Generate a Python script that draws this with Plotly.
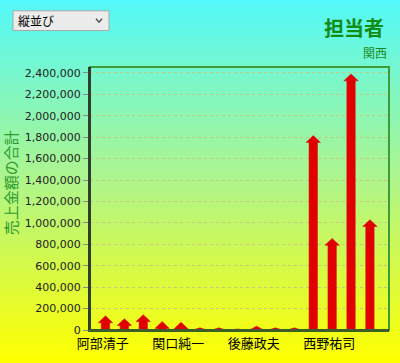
import base64
import plotly.graph_objects as go

# ---- data ----
categories = ["阿部清子", "", "", "", "関口純一", "", "", "", "後藤政夫", "", "", "", "西野祐司", "", ""]
sales = [132000, 106000, 143000, 79000, 73000, 20000, 20000, 10000, 36000, 20000, 20000,
         1815000, 855000, 2390000, 1030000]
tick_labels = ["阿部清子", "関口純一", "後藤政夫", "西野祐司"]
tick_index = [0, 4, 8, 12]
y_ticks = list(range(0, 2400001, 200000))

# ---- layout geometry (pixels) ----
W, H = 400, 363
ML, MR, MT, MB = 90, 11, 67, 29
PW, PH = W - ML - MR, H - MT - MB
YMAX = 2455000
XR = [-0.82, 15.01]
unit_px = PW / (XR[1] - XR[0])


def px_x(p):
    return (p - ML) / PW


def px_y(p):
    return (H - MB - p) / PH


# arrows built from values through the axes
head_data = 7 * YMAX / PH
sw = 4.2 / unit_px
hw = 7.2 / unit_px
xs, ys = [], []
for i, v in enumerate(sales):
    hh = min(v, head_data)
    top = v - hh
    pts = [(i - sw, 0), (i - sw, top), (i - hw, top), (i, v), (i + hw, top),
           (i + sw, top), (i + sw, 0), (i - sw, 0)]
    for a, b in pts:
        xs.append(a)
        ys.append(b)
    xs.append(None)
    ys.append(None)

fig = go.Figure()
fig.add_trace(go.Scatter(x=xs, y=ys, mode="lines", fill="toself",
                         fillcolor="#e00000", line=dict(color="#e00000", width=0.5),
                         hoverinfo="skip", showlegend=False))

# gradient background (svg data uri)
svg = ('<svg xmlns="http://www.w3.org/2000/svg" width="400" height="367" preserveAspectRatio="none">'
       '<defs><linearGradient id="g" x1="0" y1="0" x2="0" y2="1">'
       '<stop offset="0" stop-color="#52f8fa"/>'
       '<stop offset="0.5" stop-color="#aef58c"/>'
       '<stop offset="1" stop-color="#ffff00"/>'
       '</linearGradient></defs>'
       '<rect width="400" height="367" fill="url(#g)"/></svg>')
src = "data:image/svg+xml;base64," + base64.b64encode(svg.encode()).decode()

fig.update_layout(
    width=W, height=H,
    margin=dict(l=ML, r=MR, t=MT, b=MB, pad=0),
    paper_bgcolor="#ffff00",
    plot_bgcolor="rgba(0,0,0,0)",
    showlegend=False,
    images=[dict(source=src, xref="paper", yref="paper",
                 x=px_x(-2), y=px_y(-2), sizex=(W + 4) / PW, sizey=(H + 4) / PH,
                 xanchor="left", yanchor="top", sizing="stretch", layer="below")],
    xaxis=dict(range=XR, tickmode="array",
               tickvals=[t - 0.15 for t in tick_index], ticktext=tick_labels,
               showgrid=False, zeroline=False, ticks="",
               showline=True, linecolor="#3b5e2b", linewidth=2,
               tickfont=dict(family="Noto Sans CJK JP", size=13, color="#000000"),
               fixedrange=True),
    yaxis=dict(range=[0, YMAX], tickmode="array", tickvals=y_ticks,
               ticktext=[f"{v:,}" for v in y_ticks],
               showgrid=True, gridcolor="#c4c880", griddash="dot", gridwidth=1,
               zeroline=False, ticks="outside", ticklen=5, tickcolor="#8a8a8a",
               showline=True, linecolor="#2e3f2e", linewidth=2,
               tickfont=dict(family="DejaVu Sans", size=11, color="#222222"),
               fixedrange=True),
    shapes=[
        dict(type="rect", xref="paper", yref="paper", x0=0, x1=1, y0=0, y1=1,
             line=dict(color="#3c9c3c", width=2), layer="above"),
        dict(type="line", xref="paper", yref="paper", x0=0, x1=0, y0=0, y1=1,
             line=dict(color="#2e3f2e", width=2), layer="above"),
        dict(type="line", xref="paper", yref="paper", x0=0, x1=1, y0=0, y1=0,
             line=dict(color="#3b5e2b", width=2), layer="above"),
        # dropdown box
        dict(type="rect", xref="paper", yref="paper",
             x0=px_x(13), x1=px_x(109), y0=px_y(30), y1=px_y(10),
             fillcolor="#ececec", line=dict(color="#a8a8a8", width=1), layer="above"),
        dict(type="path", xref="paper", yref="paper",
             path=f"M {px_x(96)} {px_y(18)} L {px_x(99)} {px_y(21.5)} L {px_x(102)} {px_y(18)}",
             line=dict(color="#555555", width=1.5), layer="above"),
    ],
    annotations=[
        dict(text="担当者", xref="paper", yref="paper", x=px_x(386), y=px_y(26.5),
             xanchor="right", yanchor="middle", showarrow=False,
             font=dict(family="Noto Sans CJK JP", size=20, color="#148c14", weight="bold")),
        dict(text="関西", xref="paper", yref="paper", x=px_x(389), y=px_y(52.5),
             xanchor="right", yanchor="middle", showarrow=False,
             font=dict(family="Noto Sans CJK JP", size=12, color="#1e8a1e")),
        dict(text="売上金額の合計", xref="paper", yref="paper", x=px_x(10), y=px_y(185),
             xanchor="center", yanchor="middle", showarrow=False, textangle=-90,
             font=dict(family="Noto Sans CJK JP", size=15, color="#2e9a2e")),
        dict(text="縦並び", xref="paper", yref="paper", x=px_x(16), y=px_y(20),
             xanchor="left", yanchor="middle", showarrow=False,
             font=dict(family="Noto Sans CJK JP", size=12, color="#000000")),
    ],
)

fig.write_html("out.html", config=dict(displayModeBar=False),
               post_script="document.body.style.margin='0';document.body.style.overflow='hidden';")
